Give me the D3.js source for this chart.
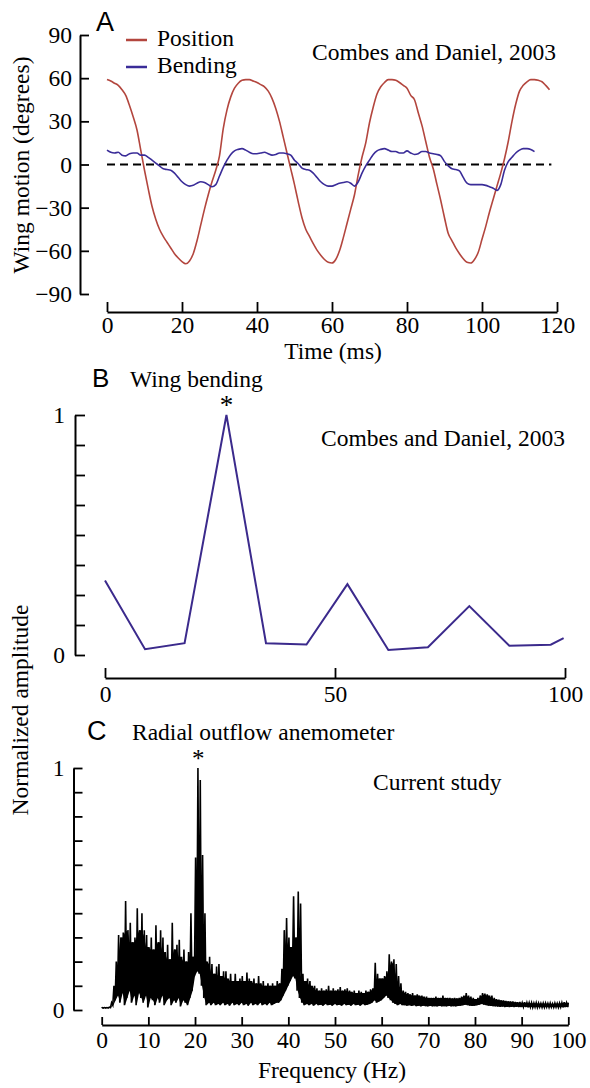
<!DOCTYPE html>
<html><head><meta charset="utf-8">
<script src="https://cdn.jsdelivr.net/npm/d3@7"></script>
<style>
body{margin:0;background:#fff}
svg text{font-family:"Liberation Serif","Times New Roman","DejaVu Serif",serif;fill:#000}
</style>
</head><body>
<svg id="c" width="590" height="1088"></svg>
<script>
// ---------- Panel A data (time ms, degrees) ----------
const positionData = [
[0,59],[1,58],[2,56.5],[3,55],[4,52],[5,48],[6,41],[7,33],[8,24],[9,10],
[10,-4],[11,-17],[12,-29],[13,-38],[14,-45],[15,-50],[16,-54],[17,-58],[18,-62],[19,-65],
[20,-67.5],[21,-69],[22,-67],[23,-62],[24,-53],[25,-42],[26,-31],[27,-21],[28,-12],[29,-4],
[30,6],[31,25],[32,38],[33,47],[34,53],[35,56.5],[36,58.5],[37,59],[38,59],[39,58],
[40,57],[41,55.5],[42,54],[43,51],[44,46],[45,39],[46,30],[47,19],[48,8],[49,-3],
[50,-14],[51,-26],[52,-37],[53,-45],[54,-50],[55,-55],[56,-59.5],[57,-63],[58,-66],[59,-68],
[60,-68.5],[61,-66],[62,-60],[63,-51],[64,-41],[65,-31],[66,-21],[67,-7],[68,5],[69,15],
[70,29],[71,40],[72,49],[73,54],[74,57],[75,59],[76,59],[77,58.5],[78,57],[79,55],
[80,53],[81,48],[82,45],[83,36],[84,27],[85,16],[86,5],[87,-3],[88,-14],[89,-25],
[90,-37],[91,-48],[92,-53],[93,-58],[94,-62],[95,-65.5],[96,-68],[97,-68.5],[98,-66],[99,-61],
[100,-52],[101,-43],[102,-33],[103,-24],[104,-15],[105,-6],[106,4],[107,16],[108,30],[109,42],
[110,51],[111,55],[112,57.5],[113,59],[114,59],[115,58.5],[116,57.5],[117,55],[118,52]
];
const bendingData = [
[0,10],[1,8.5],[2,8],[3,8.5],[4,6.5],[5,6],[6,7.5],[7,8],[8,8],[9,6.5],
[10,6.5],[11,5],[12,3],[13,1],[14,-1],[15,-3],[16,-3.5],[17,-4],[18,-6],[19,-9],
[20,-12],[21,-14],[22,-15],[23,-14.5],[24,-13],[25,-12],[26,-12.5],[27,-14],[28,-15.5],[29,-14],
[30,-8],[31,-2],[32,3],[33,7],[34,9.5],[35,10.5],[36,11],[37,10],[38,8.5],[39,7.5],
[40,7.5],[41,8],[42,8.5],[43,7.5],[44,6.5],[45,7],[46,8],[47,8],[48,7.5],[49,6.5],
[50,3],[51,0.5],[52,-2.5],[53,-3.5],[54,-4],[55,-6],[56,-9],[57,-12],[58,-14],[59,-15],
[60,-15],[61,-14],[62,-13],[63,-12.5],[64,-12],[65,-13],[66,-15],[67,-12],[68,-6],[69,-1],
[70,3],[71,7],[72,9.5],[73,10.5],[74,11],[75,10],[76,9],[77,9],[78,8],[79,8],
[80,9.5],[81,8],[82,7],[83,7.5],[84,9],[85,9],[86,8],[87,7.5],[88,7],[89,6],
[90,2],[91,-1],[92,-3],[93,-3.5],[94,-4.5],[95,-9],[96,-13],[97,-14],[98,-14],[99,-14],
[100,-14],[101,-14.5],[102,-15.5],[103,-16.5],[104,-18],[105,-14],[106,-4],[107,2],[108,5],[109,8],
[110,10],[111,11],[112,11],[113,10.5],[114,9]
];
const zeroLineMs = [0, 118.5];
const timeTicks = [0,20,40,60,80,100,120];
const degreeTicks = [-90,-60,-30,0,30,60,90];

// ---------- Panel B data (frequency Hz, normalized amplitude) ----------
const wingFreq = [0,8.7,17.3,26.4,35,43.8,52.7,61.6,70.2,79.2,87.9,96.9,99.7];
const wingAmp  = [0.31,0.024,0.049,1.0,0.049,0.044,0.295,0.021,0.032,0.204,0.039,0.043,0.07];
const ampTicksB = [0,0.125,0.25,0.375,0.5,0.625,0.75,0.875,1];
const freqTicksB = [0,50,100];

// ---------- Panel C data: spectrum envelope every 0.5 Hz (0..100) ----------
const anemoHigh = [
0.01,0.01,0.01,0.012,0.03,0.1,0.2,0.31,0.3,0.32,
0.45,0.33,0.36,0.28,0.3,0.42,0.33,0.4,0.33,0.31,
0.26,0.3,0.25,0.35,0.28,0.33,0.3,0.24,0.27,0.21,
0.36,0.25,0.27,0.29,0.22,0.25,0.2,0.24,0.4,0.22,
0.63,1.0,0.95,0.64,0.4,0.2,0.22,0.19,0.15,0.18,
0.19,0.14,0.16,0.16,0.13,0.15,0.12,0.15,0.12,0.13,
0.14,0.12,0.155,0.13,0.12,0.13,0.11,0.14,0.11,0.12,
0.1,0.11,0.1,0.11,0.1,0.12,0.11,0.17,0.33,0.38,
0.3,0.26,0.47,0.3,0.49,0.44,0.15,0.12,0.13,0.12,
0.1,0.1,0.09,0.08,0.09,0.08,0.085,0.1,0.08,0.09,
0.08,0.085,0.095,0.08,0.085,0.09,0.08,0.075,0.08,0.07,
0.08,0.075,0.07,0.08,0.075,0.085,0.09,0.195,0.15,0.13,
0.13,0.14,0.16,0.23,0.2,0.21,0.19,0.14,0.11,0.08,
0.075,0.07,0.065,0.07,0.06,0.065,0.06,0.06,0.055,0.055,
0.05,0.05,0.05,0.055,0.05,0.05,0.06,0.05,0.05,0.05,
0.048,0.05,0.048,0.05,0.055,0.06,0.07,0.06,0.055,0.05,
0.045,0.05,0.06,0.07,0.068,0.065,0.06,0.06,0.05,0.045,
0.043,0.04,0.04,0.038,0.036,0.035,0.035,0.033,0.032,0.033,
0.03,0.032,0.03,0.03,0.03,0.028,0.03,0.028,0.027,0.028,
0.028,0.027,0.028,0.026,0.028,0.027,0.028,0.03,0.032,0.03,0.03
];
const anemoLow = [
0.008,0.008,0.008,0.008,0.01,0.02,0.04,0.06,0.03,0.07,
0.02,0.05,0.08,0.03,0.06,0.02,0.07,0.05,0.03,0.06,
0.01,0.05,0.04,0.02,0.05,0.03,0.06,0.02,0.04,0.05,
0.02,0.04,0.03,0.05,0.015,0.04,0.03,0.02,0.05,0.08,
0.14,0.16,0.15,0.1,0.05,0.02,0.03,0.02,0.03,0.02,
0.025,0.02,0.03,0.02,0.025,0.018,0.03,0.02,0.025,0.02,
0.03,0.02,0.025,0.018,0.03,0.02,0.025,0.02,0.03,0.02,
0.025,0.02,0.03,0.02,0.025,0.03,0.03,0.04,0.06,0.08,
0.1,0.12,0.14,0.13,0.08,0.05,0.03,0.02,0.025,0.02,
0.025,0.018,0.025,0.02,0.022,0.018,0.025,0.02,0.022,0.018,
0.025,0.02,0.022,0.018,0.025,0.02,0.022,0.018,0.025,0.02,
0.022,0.018,0.025,0.02,0.022,0.025,0.03,0.04,0.03,0.035,
0.04,0.05,0.06,0.05,0.04,0.03,0.025,0.02,0.025,0.02,
0.02,0.018,0.02,0.017,0.02,0.016,0.018,0.015,0.018,0.016,
0.015,0.017,0.015,0.016,0.015,0.017,0.015,0.016,0.015,0.017,
0.015,0.016,0.015,0.017,0.018,0.02,0.022,0.02,0.018,0.017,
0.018,0.02,0.022,0.025,0.022,0.02,0.018,0.017,0.016,0.015,
0.014,0.013,0.014,0.012,0.013,0.012,0.013,0.012,0.013,0.012,
0.012,0.013,0.012,0.011,0.012,0.011,0.012,0.011,0.012,0.011,
0.011,0.012,0.011,0.012,0.011,0.012,0.011,0.012,0.011,0.012,0.012
];
const binStepHz = 0.5;
const ampTicksC = [0,0.1,0.2,0.3,0.4,0.5,0.6,0.7,0.8,0.9,1];
const freqTicksC = [0,10,20,30,40,50,60,70,80,90,100];

// ---------- drawing ----------
const svg = d3.select("#c");
const FS = 23.5;
const SERIF = '"Liberation Serif","Times New Roman","DejaVu Serif",serif';
const posColor = "#b3463e", bendColor = "#3a2c98", wingColor = "#3b2a8c";
const labelFmt = d => (d === 0 || d === 1) ? String(d) : "";

function styleAxis(g){
  g.selectAll("path.domain").attr("stroke","#000").attr("stroke-width",2);
  g.selectAll(".tick line").attr("stroke","#000").attr("stroke-width",1.8);
  g.selectAll("text").attr("font-size",FS).attr("font-family",SERIF).attr("fill","#000");
}
function txt(x,y,s,opts={}){
  const t = svg.append("text").attr("x",x).attr("y",y).text(s).attr("font-size",opts.size||FS);
  if(opts.anchor) t.attr("text-anchor",opts.anchor);
  if(opts.sans) t.style("font-family",'"Liberation Sans",Arial,Helvetica,sans-serif');
  return t;
}

// Panel A
const xA = d3.scaleLinear().domain([0,120]).range([107,557]);
const yA = d3.scaleLinear().domain([-90,90]).range([294,35]);
svg.append("g").attr("transform","translate(80,0)")
  .call(d3.axisLeft(yA).tickValues(degreeTicks).tickSize(-9).tickSizeOuter(0).tickPadding(8))
  .call(styleAxis);
svg.append("g").attr("transform","translate(0,312)")
  .call(d3.axisBottom(xA).tickValues(timeTicks).tickSize(-10).tickSizeOuter(0).tickPadding(4))
  .call(styleAxis);
svg.append("line").attr("x1",xA(zeroLineMs[0])).attr("x2",xA(zeroLineMs[1]))
  .attr("y1",yA(0)).attr("y2",yA(0)).attr("stroke","#000").attr("stroke-width",1.8)
  .attr("stroke-dasharray","8,5");
const lineA = d3.line().x(d=>xA(d[0])).y(d=>yA(d[1])).curve(d3.curveMonotoneX);
svg.append("path").datum(positionData).attr("d",lineA).attr("fill","none").attr("stroke",posColor).attr("stroke-width",1.6);
svg.append("path").datum(bendingData).attr("d",lineA).attr("fill","none").attr("stroke",bendColor).attr("stroke-width",1.6);
// legend
svg.append("line").attr("x1",126).attr("x2",147).attr("y1",40).attr("y2",40).attr("stroke",posColor).attr("stroke-width",2.5);
svg.append("line").attr("x1",126).attr("x2",147).attr("y1",67).attr("y2",67).attr("stroke",bendColor).attr("stroke-width",2.5);
txt(157,46,"Position");
txt(157,73,"Bending");
txt(96,31,"A",{sans:true,size:27});
txt(312,60,"Combes and Daniel, 2003");
txt(333,359,"Time (ms)",{anchor:"middle"});
txt(0,0,"Wing motion (degrees)",{anchor:"middle"}).attr("transform","translate(29,165) rotate(-90)");

// Panel B
const xB = d3.scaleLinear().domain([0,100]).range([105,565]);
const yB = d3.scaleLinear().domain([0,1]).range([655,415]);
svg.append("g").attr("transform","translate(75,0)")
  .call(d3.axisLeft(yB).tickValues(ampTicksB).tickFormat(labelFmt).tickSize(-10).tickSizeOuter(0).tickPadding(10))
  .call(styleAxis);
svg.append("g").attr("transform","translate(0,678)")
  .call(d3.axisBottom(xB).tickValues(freqTicksB).tickSize(-10).tickSizeOuter(0).tickPadding(7))
  .call(styleAxis);
const lineB = d3.line().x((d,i)=>xB(wingFreq[i])).y(d=>yB(d));
svg.append("path").datum(wingAmp).attr("d",lineB).attr("fill","none").attr("stroke",wingColor).attr("stroke-width",2).attr("stroke-linejoin","miter");
txt(92,387,"B",{sans:true,size:26});
txt(130,387,"Wing bending");
txt(xB(wingFreq[3]),414,"*",{anchor:"middle",size:27});
txt(321,446,"Combes and Daniel, 2003");

// Panel C
const xC = d3.scaleLinear().domain([0,100]).range([101.7,568.3]);
const yC = d3.scaleLinear().domain([0,1]).range([1010,768]);
svg.append("g").attr("transform","translate(73.5,0)")
  .call(d3.axisLeft(yC).tickValues(ampTicksC).tickFormat(labelFmt).tickSize(-9).tickSizeOuter(0).tickPadding(9))
  .call(styleAxis);
svg.append("g").attr("transform","translate(0,1025)")
  .call(d3.axisBottom(xC).tickValues(freqTicksC).tickSize(-8).tickSizeOuter(0).tickPadding(6))
  .call(styleAxis);
// dense core of the spectrum: between the low envelope and the local minimum of the high envelope
const coreArea = d3.area()
  .x((d,i)=>xC(i*binStepHz))
  .y0((d,i)=>yC(anemoLow[i]))
  .y1((d,i)=>yC(Math.max(anemoLow[i], d3.min(anemoHigh.slice(Math.max(0,i-1), i+2)))));
svg.append("path").datum(anemoHigh).attr("d",coreArea).attr("fill","#000");
// needles of the spectrum
const specPts = [];
anemoHigh.forEach((h,i)=>{
  const f = i*binStepHz;
  specPts.push([Math.max(0,f-0.125), anemoLow[i]]);
  specPts.push([Math.min(100,f+0.125), h]);
});
const lineC = d3.line().x(d=>xC(d[0])).y(d=>yC(d[1]));
svg.append("path").datum(specPts).attr("d",lineC).attr("fill","none").attr("stroke","#000").attr("stroke-width",1.6).attr("stroke-linejoin","miter");
txt(87,740,"C",{sans:true,size:27});
txt(132,740,"Radial outflow anemometer");
txt(xC(20.7),767,"*",{anchor:"middle",size:25});
txt(373,790,"Current study");
txt(332,1078,"Frequency (Hz)",{anchor:"middle"});
txt(0,0,"Normalized amplitude",{anchor:"middle"}).attr("transform","translate(28,710) rotate(-90)");
</script>
</body></html>
